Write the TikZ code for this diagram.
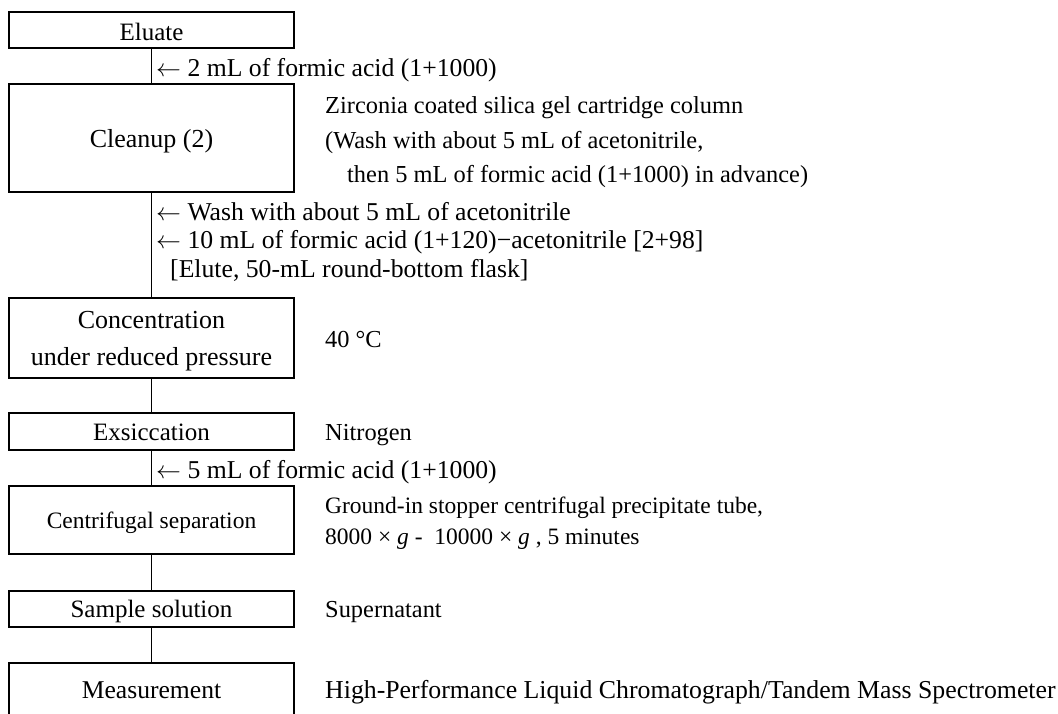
\documentclass[tikz,border=0pt]{standalone}
\usepackage{fontspec}
\setmainfont{Liberation Serif}
\newcommand{\fboxtxt}{\fontsize{25.5}{30}\selectfont}
\newcommand{\fside}{\fontsize{24.4}{29}\selectfont}
\newcommand{\farr}{\fontsize{25.7}{30}\selectfont}
\newcommand{\fsmall}{\fontsize{23.5}{28}\selectfont}
\newcommand{\larr}{$\leftarrow$}
\begin{document}
\begin{tikzpicture}[x=1pt,y=-1pt,
  stepbox/.style={draw, line width=1.3pt, inner sep=0pt, minimum width=285pt},
  lbl/.style={anchor=base west, inner sep=0pt, font=\fside},
  albl/.style={anchor=base west, inner sep=0pt, font=\farr},
  slbl/.style={anchor=base west, inner sep=0pt, font=\fsmall},
  btxt/.style={anchor=base, inner sep=0pt, font=\fboxtxt},
  conn/.style={line width=1.3pt}]
\useasboundingbox (0,0) rectangle (1058,713);
\begin{scope}
\clip (0,0) rectangle (1058,713);
% boxes
\node[stepbox, minimum height=36pt] (eluate) at (151.5,30) {};
\node[stepbox, minimum height=108pt] (cleanup) at (151.5,138) {};
\node[stepbox, minimum height=80pt] (conc) at (151.5,338) {};
\node[stepbox, minimum height=37pt] (exsic) at (151.5,431.5) {};
\node[stepbox, minimum height=68pt] (centri) at (151.5,520) {};
\node[stepbox, minimum height=36pt] (sample) at (151.5,609) {};
\node[stepbox, minimum height=80pt] (meas) at (151.5,703) {};
% box texts
\node[btxt, font=\fontsize{25}{30}\selectfont] (t1) at (151.5,40) {Eluate};
\node[btxt, font=\fontsize{26}{30}\selectfont] (t2) at (151.5,147) {Cleanup (2)};
\node[btxt, font=\fontsize{26}{30}\selectfont] (t3a) at (151.5,328) {Concentration};
\node[btxt, font=\fontsize{26}{30}\selectfont] (t3b) at (151.5,365) {under reduced pressure};
\node[btxt, font=\fontsize{25}{30}\selectfont] (t4) at (151.5,440) {Exsiccation};
\node[btxt, font=\fsmall] (t5) at (151.5,528) {Centrifugal separation};
\node[btxt, font=\fontsize{25}{30}\selectfont] (t6) at (151.5,617) {Sample solution};
\node[btxt, font=\fontsize{25.6}{30}\selectfont] (t7) at (151.5,698) {Measurement};
% connectors
\draw[conn] (eluate.south) -- (cleanup.north);
\draw[conn] (cleanup.south) -- (conc.north);
\draw[conn] (conc.south) -- (exsic.north);
\draw[conn] (exsic.south) -- (centri.north);
\draw[conn] (centri.south) -- (sample.north);
\draw[conn] (sample.south) -- (meas.north);
\end{scope}
% side texts
\node[albl] (a1) at (156,76) {\larr{} 2 mL of formic acid (1+1000)};
\node[lbl] (z1) at (325,113) {Zirconia coated silica gel cartridge column};
\node[lbl] (z2) at (325,148) {(Wash with about 5 mL of acetonitrile,};
\node[lbl] (z3) at (347,182) {then 5 mL of formic acid (1+1000) in advance)};
\node[albl] (a2) at (156,220) {\larr{} Wash with about 5 mL of acetonitrile};
\node[albl] (a3) at (156,248) {\larr{} 10 mL of formic acid (1+120)−acetonitrile [2+98]};
\node[albl] (a4) at (170,277) {[Elute, 50-mL round-bottom flask]};
\node[lbl] (c1) at (325,347) {40 °C};
\node[lbl] (n1) at (325,440) {Nitrogen};
\node[albl] (a5) at (156,478) {\larr{} 5 mL of formic acid (1+1000)};
\node[slbl] (g1) at (325,513) {Ground-in stopper centrifugal precipitate tube,};
\node[slbl] (g2) at (325,544) {8000 × \textit{g} -\ \ 10000 × \textit{g} , 5 minutes};
\node[lbl] (s1) at (325,617) {Supernatant};
\node[lbl, font=\fontsize{25.8}{30}\selectfont] (m1) at (325,698) {High-Performance Liquid Chromatograph/Tandem Mass Spectrometer};
\end{tikzpicture}
\end{document}
